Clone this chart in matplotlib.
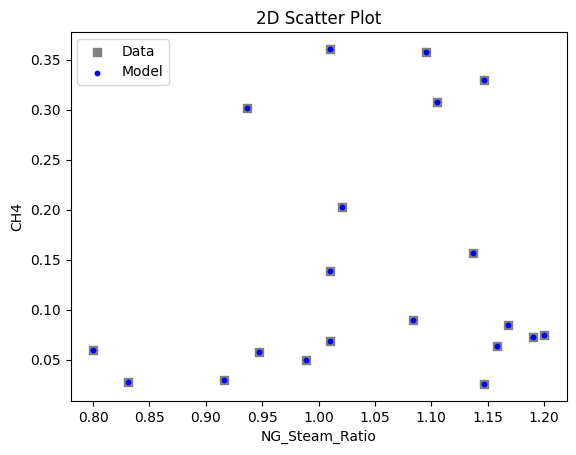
import matplotlib
matplotlib.use("Agg")
import matplotlib.pyplot as plt

ng_steam_ratio = [0.800, 0.831, 0.916, 0.937, 0.947, 0.989, 1.010, 1.010, 1.010,
                  1.021, 1.084, 1.095, 1.105, 1.137, 1.147, 1.147, 1.158, 1.168,
                  1.190, 1.200]
ch4_data = [0.060, 0.028, 0.030, 0.302, 0.058, 0.050, 0.069, 0.139, 0.361,
            0.203, 0.090, 0.358, 0.308, 0.157, 0.330, 0.0257, 0.064, 0.085,
            0.073, 0.075]
ch4_model = list(ch4_data)

fig = plt.figure(figsize=(5.76, 4.55), dpi=100)
ax = fig.add_axes([70.5/576, (455-401)/455, 496/576, 369/455])
ax.scatter(ng_steam_ratio, ch4_data, marker='s', color='gray', s=36, label='Data')
ax.scatter(ng_steam_ratio, ch4_model, marker='o', color='blue', s=10, label='Model')
ax.set_xlabel('NG_Steam_Ratio')
ax.set_ylabel('CH4')
ax.set_title('2D Scatter Plot')
ax.legend(loc='upper left')
fig.savefig('out.png', dpi=100)
